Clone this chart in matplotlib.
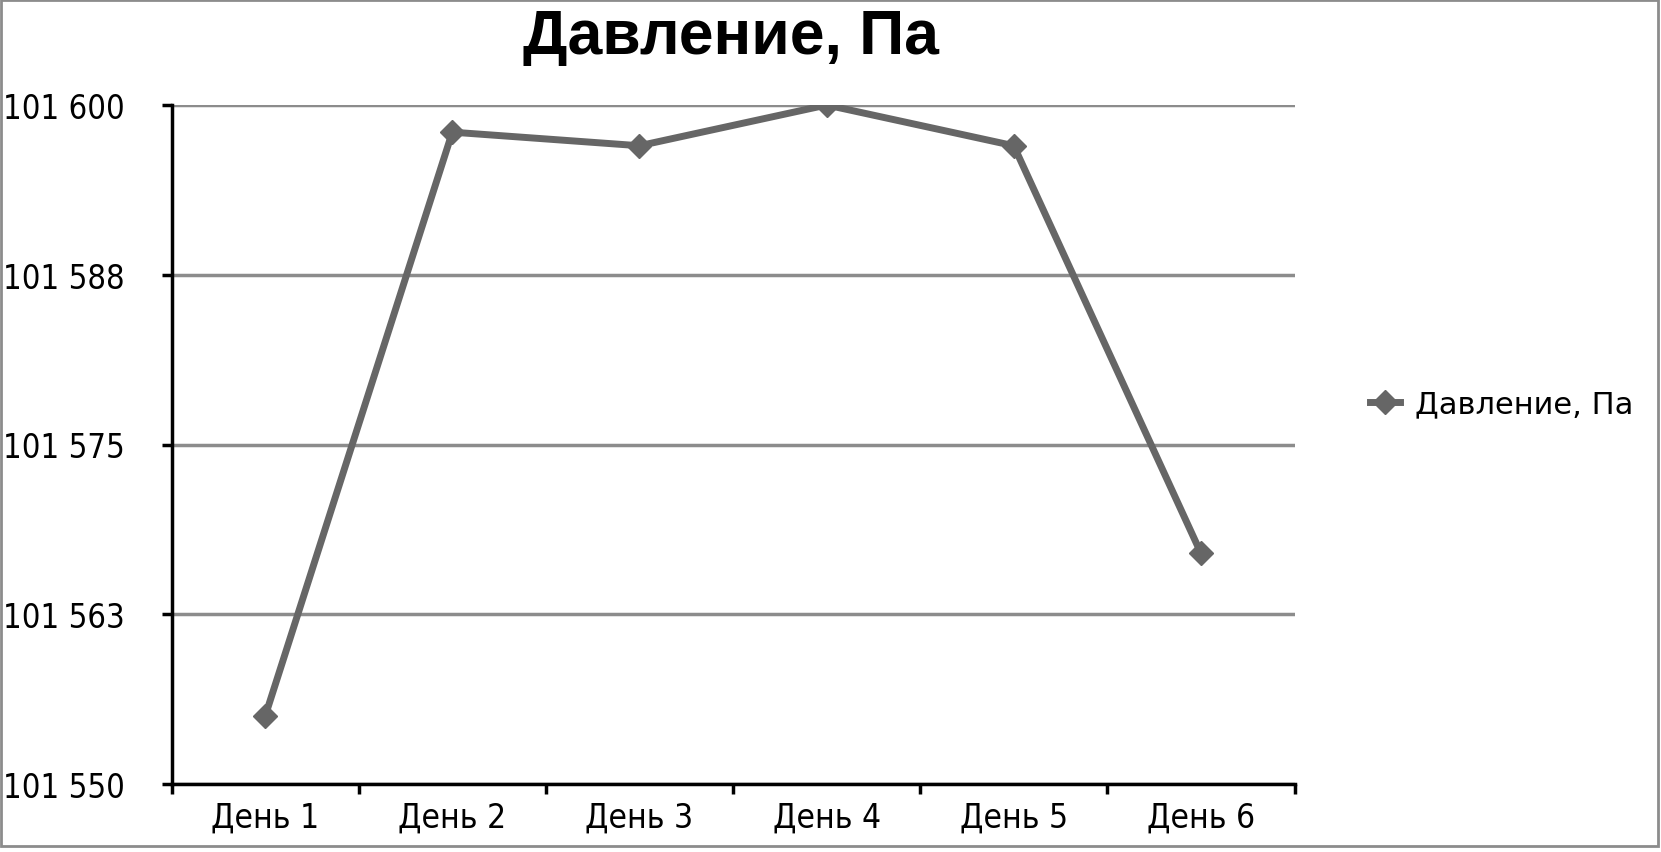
import numpy as np
import matplotlib.pyplot as plt
from matplotlib.ticker import FuncFormatter, FixedLocator
from matplotlib.patches import Rectangle

days = ['День 1', 'День 2', 'День 3', 'День 4', 'День 5', 'День 6']
pressure = [101555, 101598, 101597, 101600, 101597, 101567]
y_ticks = [101550, 101562.5, 101575, 101587.5, 101600]
series_name = 'Давление, Па'

line_color = '#666666'
grid_color = '#8c8c8c'
label_font = ['DejaVu Sans']

fig = plt.figure(figsize=(16.61, 8.53), dpi=100)
ax = fig.add_axes([171.6 / 1661, 1 - 785 / 853, (1294.5 - 171.6) / 1661, (785 - 106) / 853])

x = np.arange(len(days))
ax.plot(x, pressure, color=line_color, lw=5, marker='D', markersize=12,
        label=series_name, zorder=3)

ax.set_xlim(-0.5, len(days) - 0.5)
ax.set_ylim(y_ticks[0], y_ticks[-1])

ax.yaxis.set_major_locator(FixedLocator(y_ticks))
ax.yaxis.set_major_formatter(FuncFormatter(
    lambda v, p: f"{int(np.floor(v + 0.5)):,}".replace(',', ' ')))
ax.grid(axis='y', color=grid_color, lw=2.5)
ax.set_axisbelow(True)

# category axis: ticks between categories, labels centered
ax.set_xticks(np.arange(-0.5, len(days), 1.0))
ax.set_xticklabels([])
ax.set_xticks(x, minor=True)
ax.set_xticklabels(days, minor=True, fontsize=24, family=label_font, fontstretch='condensed')
ax.tick_params(axis='x', which='major', length=7, width=2.5, direction='out')
ax.tick_params(axis='x', which='minor', length=0, pad=12)
ax.tick_params(axis='y', length=7, width=2.5, direction='out', pad=27)
for lbl in ax.get_yticklabels():
    lbl.set_fontsize(23.5)
    lbl.set_family(label_font)
    lbl.set_fontstretch('condensed')

for s in ['top', 'right']:
    ax.spines[s].set_visible(False)
for s in ['left', 'bottom']:
    ax.spines[s].set_linewidth(2.5)
    ax.spines[s].set_color('black')

fig.text(731 / 1661, 1 - 38 / 853, series_name, ha='center', va='center',
         fontsize=45, fontweight='bold', family=['Liberation Sans Narrow', 'Liberation Sans'])

fig.legend(loc='center left', bbox_to_anchor=(1342 / 1661, 1 - 405 / 853), frameon=False,
           handlelength=1.0, handletextpad=0.5, prop={'family': label_font, 'size': 22})

fig.patches.append(Rectangle((0.0006, 0.007), 0.9975, 0.992, transform=fig.transFigure,
                             fill=False, edgecolor=grid_color, lw=2))

fig.savefig('out.png', dpi=100)
